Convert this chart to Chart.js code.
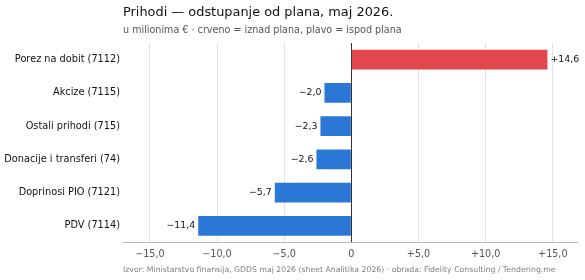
<!DOCTYPE html>
<html><head><meta charset="utf-8">
<script src="https://cdn.jsdelivr.net/npm/chart.js@4/dist/chart.umd.min.js"></script>
<style>html,body{margin:0;padding:0;background:#fff}canvas{display:block}</style>
</head><body>
<canvas id="c" width="585" height="280"></canvas>
<script>
const categories = ["Porez na dobit (7112)","Akcize (7115)","Ostali prihodi (715)","Donacije i transferi (74)","Doprinosi PIO (7121)","PDV (7114)"];
const deviations = [14.6, -2.0, -2.3, -2.6, -5.7, -11.4];
const xTicks = [-15, -10, -5, 0, 5, 10, 15];
const titleText = "Prihodi — odstupanje od plana, maj 2026.";
const subtitleText = "u milionima € · crveno = iznad plana, plavo = ispod plana";
const footerText = "Izvor: Ministarstvo finansija, GDDS maj 2026 (sheet Analitika 2026) · obrada: Fidelity Consulting / Tendering.me";

const FONT = "'DejaVu Sans', sans-serif";
function fmt(v, signed){
  if (v === 0) return "0";
  const s = Math.abs(v).toFixed(1).replace('.', ',');
  return (v < 0 ? "\u2212" : (signed ? "+" : "")) + s;
}

const textPlugin = {
  id: 'texts',
  afterDraw(chart){
    const ctx = chart.ctx, a = chart.chartArea;
    ctx.save();
    ctx.textAlign = 'left'; ctx.textBaseline = 'middle';
    ctx.fillStyle = '#111'; ctx.font = "12.9px " + FONT;
    ctx.fillText(titleText, a.left, 12.5);
    ctx.fillStyle = '#555'; ctx.font = "9.6px " + FONT;
    ctx.fillText(subtitleText, a.left, 30);
    ctx.fillStyle = '#808080'; ctx.font = "7.75px " + FONT;
    ctx.fillText(footerText, a.left, 270);
    ctx.restore();
  }
};
const labelPlugin = {
  id: 'vals',
  afterDatasetsDraw(chart){
    const ctx = chart.ctx;
    const meta = chart.getDatasetMeta(0);
    ctx.save();
    ctx.font = "9.4px " + FONT; ctx.fillStyle = '#111'; ctx.textBaseline = 'middle';
    meta.data.forEach((bar, i) => {
      const v = deviations[i];
      if (v >= 0){ ctx.textAlign = 'left'; ctx.fillText(fmt(v, true), bar.x + 3, bar.y); }
      else { ctx.textAlign = 'right'; ctx.fillText(fmt(v, true), bar.x - 3, bar.y); }
    });
    ctx.restore();
  }
};

new Chart(document.getElementById('c'), {
  type: 'bar',
  data: {
    labels: categories,
    datasets: [{
      data: deviations,
      backgroundColor: deviations.map(v => v >= 0 ? '#e2474b' : '#2a77d6'),
      categoryPercentage: 1.0,
      barPercentage: 0.6,
      borderWidth: 0
    }]
  },
  options: {
    indexAxis: 'y',
    responsive: false,
    animation: false,
    layout: { padding: { top: 43, right: 8, left: 0, bottom: 0 } },
    plugins: { legend: { display: false }, tooltip: { enabled: false }, title: { display: false } },
    scales: {
      x: {
        min: -17, max: 16.8,
        afterBuildTicks(scale){ scale.ticks = xTicks.map(v => ({ value: v })); },
        afterFit(scale){ scale.height = 37.5; },
        ticks: { callback: v => fmt(v, true), color: '#555', font: { family: FONT, size: 9.6 }, padding: 6, maxRotation: 0 },
        grid: {
          drawTicks: false,
          color: ctx => (ctx.tick && ctx.tick.value === 0) ? '#333' : '#e6e3dc',
          lineWidth: 1
        },
        border: { display: true, color: '#bbb' }
      },
      y: {
        afterFit(scale){ scale.width = 123; },
        ticks: { color: '#111', font: { family: FONT, size: 9.75 }, padding: 3 },
        grid: { display: false, drawTicks: false },
        border: { display: false }
      }
    }
  },
  plugins: [textPlugin, labelPlugin]
});
</script>
</body></html>
